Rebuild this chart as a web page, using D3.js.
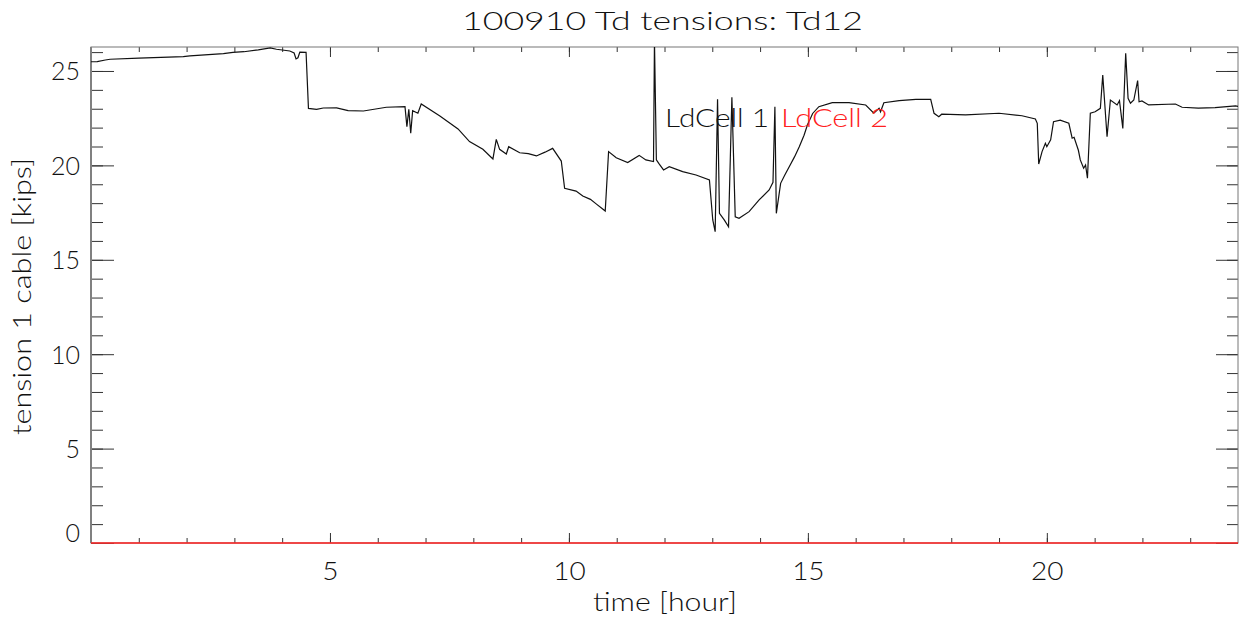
<!DOCTYPE html>
<html>
<head>
<meta charset="utf-8">
<script src="https://cdn.jsdelivr.net/npm/d3@7"></script>
<style>
  body { margin: 0; background: #fff; }
  text { font-family: Lato, "Open Sans", sans-serif; font-weight: 300; fill: #111; }
</style>
</head>
<body>
<div id="chart"></div>
<script>
// datos
const hours = [0.00, 0.13, 0.30, 0.40, 1.00, 1.93, 2.07, 2.77, 2.97, 3.20, 3.50, 3.75, 3.88, 4.16, 4.25, 4.29, 4.33, 4.37, 4.50,
  4.55, 4.72, 4.86, 5.14, 5.38, 5.70, 6.18, 6.57, 6.61, 6.65, 6.69, 6.73, 6.84, 6.91, 7.30, 7.68, 7.92, 8.20, 8.41, 8.48, 8.55,
  8.69, 8.74, 8.97, 9.15, 9.32, 9.50, 9.66, 9.84, 9.91, 10.15, 10.29, 10.45, 10.57, 10.70, 10.76, 10.83, 10.99, 11.23, 11.47,
  11.61, 11.77, 11.79, 11.83, 11.88, 11.98, 12.10, 12.38, 12.66, 12.94, 13.01, 13.06, 13.11, 13.15, 13.25, 13.34, 13.41, 13.48,
  13.56, 13.77, 13.98, 14.19, 14.27, 14.31, 14.34, 14.43, 14.52, 14.61, 14.72, 14.82, 14.92, 14.99, 15.10, 15.23, 15.51, 15.86,
  16.21, 16.38, 16.49, 16.52, 16.59, 16.91, 17.26, 17.57, 17.64, 17.74, 17.80, 18.30, 19.00, 19.48, 19.76, 19.80, 19.83, 19.90,
  19.97, 20.00, 20.08, 20.14, 20.28, 20.46, 20.53, 20.57, 20.66, 20.70, 20.77, 20.81, 20.85, 20.91, 21.01, 21.12, 21.17, 21.26,
  21.33, 21.47, 21.52, 21.59, 21.65, 21.70, 21.75, 21.82, 21.90, 21.93, 21.99, 22.13, 22.69, 22.83, 23.17, 23.52, 23.95, 24.00];
const ldCell1 = [25.49, 25.50, 25.58, 25.62, 25.68, 25.76, 25.80, 25.92, 25.99, 26.02, 26.12, 26.22, 26.15, 26.06, 25.95, 25.64, 25.70, 26.00, 25.99,
  23.02, 22.97, 23.04, 23.05, 22.90, 22.88, 23.08, 23.11, 22.05, 22.97, 21.70, 22.90, 22.76, 23.25, 22.62, 21.93, 21.26, 20.85, 20.34, 21.38, 20.85,
  20.60, 20.99, 20.67, 20.62, 20.50, 20.70, 20.90, 20.23, 18.79, 18.64, 18.38, 18.20, 17.96, 17.70, 17.58, 20.73, 20.40, 20.15, 20.53,
  20.29, 20.20, 26.60, 20.30, 20.11, 19.76, 19.93, 19.67, 19.49, 19.23, 17.11, 16.49, 23.50, 17.46, 17.11, 16.75, 23.61, 17.28,
  17.20, 17.55, 18.17, 18.70, 19.10, 23.11, 17.46, 19.05, 19.50, 19.93, 20.45, 20.99, 21.60, 22.14, 22.75, 23.11, 23.32, 23.32,
  23.20, 22.76, 23.02, 22.84, 23.32, 23.43, 23.50, 23.50, 22.76, 22.58, 22.71, 22.67, 22.76, 22.63, 22.46, 22.23, 20.07, 20.73,
  21.17, 20.99, 21.35, 22.31, 22.40, 22.23, 21.44, 21.49, 20.80, 20.29, 19.85, 20.02, 19.32, 22.76, 22.84, 23.02, 24.79, 21.52,
  23.46, 23.20, 23.43, 21.96, 25.94, 23.55, 23.29, 23.46, 24.49, 23.37, 23.41, 23.20, 23.25, 23.08, 23.03, 23.06, 23.15, 23.12];
// LdCell 2 queda en cero (se dibuja sobre el eje inferior)
const hours2 = [0, 24];
const ldCell2 = [0, 0];

const xMajor = [5, 10, 15, 20];
const xMinor = d3.range(1, 24);
const yMajor = [0, 5, 10, 15, 20, 25];
const yMinor = d3.range(1, 27);
const seriesNames = ['LdCell 1', 'LdCell 2'];
const seriesColors = ['#111', '#ff2020'];

const WIDTH = 1247, HEIGHT = 624;
const MARGIN = { TOP: 47, BOTTOM: 81, LEFT: 91, RIGHT: 9 };

const svg = d3.select('#chart').append('svg')
  .attr('width', WIDTH).attr('height', HEIGHT);

const x = d3.scaleLinear().domain([0, 24]).range([MARGIN.LEFT, WIDTH - MARGIN.RIGHT]);
const y = d3.scaleLinear().domain([0, 26.27]).range([HEIGHT - MARGIN.BOTTOM, MARGIN.TOP]);

svg.append('clipPath').attr('id', 'clip').append('rect')
  .attr('x', x(0)).attr('y', y(26.27))
  .attr('width', x(24) - x(0)).attr('height', y(0) - y(26.27));

// ejes con ticks hacia adentro
const axisStyle = g => {
  g.select('.domain').remove();
  g.selectAll('.tick line').attr('stroke', '#333').attr('stroke-width', 1);
};

svg.append('g').attr('transform', `translate(0,${y(0)})`)
  .call(d3.axisBottom(x).tickValues(xMinor).tickSize(-5).tickFormat(''))
  .call(axisStyle);
svg.append('g').attr('transform', `translate(0,${y(0)})`)
  .call(d3.axisBottom(x).tickValues(xMajor).tickSize(-10).tickPadding(19).tickFormat(d3.format('d')))
  .call(axisStyle)
  .call(g => g.selectAll('text').attr('font-size', 25).attr('dy', '0.72em')
    .attr('transform', 'scale(1.12,1)'));
svg.append('g').attr('transform', `translate(0,${y(26.27)})`)
  .call(d3.axisTop(x).tickValues(xMinor).tickSize(-5).tickFormat(''))
  .call(axisStyle);
svg.append('g').attr('transform', `translate(0,${y(26.27)})`)
  .call(d3.axisTop(x).tickValues(xMajor).tickSize(-10).tickFormat(''))
  .call(axisStyle);

svg.append('g').attr('transform', `translate(${x(0)},0)`)
  .call(d3.axisLeft(y).tickValues(yMinor).tickSize(-12).tickFormat(''))
  .call(axisStyle);
svg.append('g').attr('transform', `translate(${x(0)},0)`)
  .call(d3.axisLeft(y).tickValues(yMajor).tickSize(-23).tickPadding(11).tickFormat(d3.format('d')))
  .call(axisStyle)
  .call(g => g.selectAll('text').attr('font-size', 25)
    .attr('dy', d => d === 0 ? '-0.05em' : '0.36em'));
svg.append('g').attr('transform', `translate(${x(24)},0)`)
  .call(d3.axisRight(y).tickValues(yMinor).tickSize(-11).tickFormat(''))
  .call(axisStyle);
svg.append('g').attr('transform', `translate(${x(24)},0)`)
  .call(d3.axisRight(y).tickValues(yMajor).tickSize(-22).tickFormat(''))
  .call(axisStyle);

// marco
svg.append('rect')
  .attr('x', x(0)).attr('y', y(26.27))
  .attr('width', x(24) - x(0)).attr('height', y(0) - y(26.27))
  .attr('fill', 'none').attr('stroke', '#777').attr('stroke-width', 1);
svg.append('line')
  .attr('x1', x(0)).attr('x2', x(0)).attr('y1', y(26.27)).attr('y2', y(0))
  .attr('stroke', '#808080').attr('stroke-width', 2);

// series
const line = d3.line().x(d => x(d[0])).y(d => y(d[1]));
const plot = svg.append('g').attr('clip-path', 'url(#clip)');
plot.append('path')
  .datum(hours.map((h, i) => [h, ldCell1[i]]))
  .attr('d', line)
  .attr('fill', 'none').attr('stroke', seriesColors[0]).attr('stroke-width', 1.2);
svg.append('path')
  .datum(hours2.map((h, i) => [h, ldCell2[i]]))
  .attr('d', line)
  .attr('fill', 'none').attr('stroke', seriesColors[1]).attr('stroke-width', 1.5);

// leyenda
svg.append('text').attr('x', 665).attr('y', 127)
  .attr('font-size', 26).attr('textLength', 104).attr('lengthAdjust', 'spacingAndGlyphs')
  .style('fill', seriesColors[0]).text(seriesNames[0]);
svg.append('text').attr('x', 781).attr('y', 127)
  .attr('font-size', 26).attr('textLength', 107).attr('lengthAdjust', 'spacingAndGlyphs')
  .style('fill', seriesColors[1]).text(seriesNames[1]);

// titulos
svg.append('text').attr('x', 462).attr('y', 30)
  .attr('font-size', 25).attr('textLength', 401).attr('lengthAdjust', 'spacingAndGlyphs')
  .text('100910 Td tensions: Td12');
svg.append('text').attr('x', 593).attr('y', 611)
  .attr('font-size', 25).attr('textLength', 144).attr('lengthAdjust', 'spacingAndGlyphs')
  .text('time [hour]');
svg.append('text')
  .attr('transform', 'translate(31,435) rotate(-90)')
  .attr('font-size', 25).attr('textLength', 277).attr('lengthAdjust', 'spacingAndGlyphs')
  .text('tension 1 cable [kips]');
</script>
</body>
</html>
